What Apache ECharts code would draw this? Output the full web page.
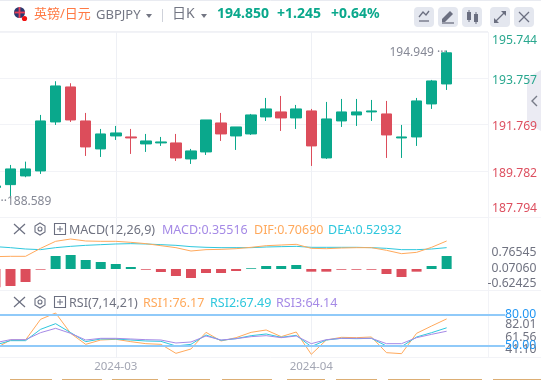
<!DOCTYPE html>
<html><head><meta charset="utf-8">
<style>html,body{margin:0;padding:0;background:#fff}#c{width:541px;height:380px}</style>
<script src="https://cdn.jsdelivr.net/npm/echarts@6/dist/echarts.min.js"></script>
</head><body><div id="c"></div>
<script>
// ---- data ----
const categories = ['','','','','','','','','2024-03','','','','','','','','','','','','','2024-04','','','','','','','','','','',''];
const ohlc = [ // open, close, low, high
[189.065,189.129,188.95,189.30],[189.185,189.860,188.589,190.031],[189.559,189.860,189.503,190.173],
[189.774,191.922,189.645,192.180],[191.879,193.426,191.750,193.628],[193.383,191.965,191.879,193.542],
[191.922,190.805,190.418,192.266],[190.719,191.363,190.375,191.578],[191.277,191.406,191.105,191.707],
[191.234,191.191,190.504,191.578],[190.934,191.062,190.590,191.363],[190.977,191.020,190.848,191.234],
[190.977,190.332,190.203,191.363],[190.289,190.633,190.074,190.719],[190.590,191.965,190.461,191.965],
[191.836,191.363,191.062,192.266],[191.277,191.664,190.676,191.664],[191.363,192.180,191.320,192.223],
[192.094,192.438,191.922,192.910],[192.309,192.051,191.492,192.996],[192.051,192.438,191.578,192.610],
[192.352,190.848,189.988,192.438],[190.332,192.008,190.289,192.739],[191.922,192.309,191.664,192.867],
[192.180,192.309,191.707,192.867],[192.309,192.352,191.922,192.824],[192.223,191.320,190.332,192.782],
[191.191,191.234,190.332,191.750],[191.234,192.782,190.848,192.910],[192.653,193.641,192.438,193.684],
[193.512,194.850,193.254,194.949]];
const macdHist = [-0.5,-0.464,-0.355,-0.018,0.355,0.383,0.246,0.191,0.137,0.055,-0.02,-0.082,-0.191,-0.246,-0.109,-0.109,-0.055,0.02,0.082,0.082,0.109,-0.073,-0.073,-0.02,-0.02,-0.02,-0.137,-0.219,-0.073,0.082,0.35516];
const dif = [0.29,0.298,0.298,0.511,0.698,0.76,0.707,0.698,0.698,0.671,0.636,0.582,0.529,0.44,0.476,0.484,0.502,0.538,0.582,0.6,0.618,0.511,0.502,0.52,0.529,0.529,0.458,0.369,0.404,0.538,0.7069];
const dea = [0.556,0.529,0.493,0.476,0.529,0.564,0.591,0.609,0.627,0.636,0.627,0.609,0.591,0.556,0.538,0.529,0.529,0.529,0.547,0.556,0.564,0.538,0.538,0.538,0.538,0.529,0.511,0.476,0.476,0.493,0.52932];
const rsi1 = [47.4,55.56,55.56,75.77,81.96,62.08,51.33,55.56,56.22,53.94,51.98,51.33,42.53,46.77,63.06,54.59,57.85,63.06,65.34,58.82,63.38,41.55,55.56,58.17,57.85,58.5,43.18,42.2,62.08,69.25,76.17];
const rsi2 = [50.7,54.91,54.91,65.99,71.53,62.73,53.93,56.54,56.54,55.56,54.59,54.26,49.7,51.33,60.45,55.24,56.87,59.8,61.43,58.17,60.13,49.05,55.56,57.19,56.87,57.19,49.7,49.05,58.5,62.73,67.49];
const rsi3 = [52.96,55.89,55.89,62.73,66.97,62.08,55.56,57.19,57.19,56.54,55.89,55.56,52.63,53.61,59.47,55.56,56.87,58.82,59.8,57.85,59.47,51.98,55.89,57.19,57.19,57.19,51.98,51.98,57.85,61.1,64.14];
const priceTicks = [187.794,189.782,191.769,193.757,195.744];
const macdTicks = ['-0.62425','0.07060','0.76545'];
const rsiTicks = ['41.10','61.56','82.01'];
const rsiLevels = [80,50];
const highLabel = 194.949, lowLabel = 188.589;

const FONT = '"Noto Sans","Noto Sans CJK SC",sans-serif';
const UP = '#0aa88c', DOWN = '#dc4d5b', GRID = '#f2f3f7';
const OR = '#ffa95c', CY = '#2ec7dd', PU = '#a58ae6', GREY = '#6f7280';

const txt = (x,y,text,fill,size,weight) => ({type:'text',z:5,style:{x,y,text,fill,verticalAlign:'middle',font:`${weight||'normal'} ${size||13}px ${FONT}`}});
const ln = (x1,y1,x2,y2,stroke,w) => ({type:'line',z:-2,shape:{x1,y1,x2,y2},style:{stroke,lineWidth:w||1}});
const poly = (points,stroke,w) => ({type:'polyline',z:5,shape:{points},style:{stroke,fill:null,lineWidth:w||1.3}});
const solid = (points,fill,z) => ({type:'polygon',z:z||5,shape:{points},style:{fill}});
const btn = x => ({type:'rect',z:2,shape:{x,y:7,width:20,height:20,r:4},style:{fill:'#e4e7ef'}});
const panelIcons = y => [
  poly([[14,y-5],[25,y+5]],'#6b6f80',1.2), poly([[25,y-5],[14,y+5]],'#6b6f80',1.2),
  {type:'polygon',z:5,shape:{points:[[40,y-6],[45,y-3],[45,y+3],[40,y+6],[35,y+3],[35,y-3]]},style:{fill:null,stroke:'#6b6f80',lineWidth:1.1}},
  {type:'circle',z:5,shape:{cx:40,cy:y,r:2},style:{fill:null,stroke:'#6b6f80',lineWidth:1.1}},
  {type:'rect',z:5,shape:{x:54.5,y:y-5.5,width:11,height:11},style:{fill:null,stroke:'#6b6f80',lineWidth:1.1}},
  poly([[57,y],[63,y]],'#6b6f80',1), poly([[60,y-3],[60,y+3]],'#6b6f80',1)
];
const strips = [[10,52],[62,102],[112,158],[168,210],[222,272],[287,325],[336,377],[388,430],[440,482],[493,541]];

const elements = [
  ln(0,0.5,541,0.5,'#e9ebf1'), ln(0,31.5,488,31.5,'#f0f1f5',1), ln(0,217.5,488,217.5,GRID), ln(488,217.5,541,217.5,'#f5f6f9'),
  ln(0,290.5,541,290.5,GRID), ln(0,357.5,541,357.5,GRID), ln(488.5,32,488.5,358,'#f2f3f7'),
  solid([[527,78],[541,70],[541,131],[527,123]],'#ebebf3',-1), poly([[537,96],[532,101],[537,106]],'#777b88',1.4),
  {type:'circle',z:5,shape:{cx:19.5,cy:12.5,r:5.5},style:{fill:'#2c3a70'}},
  poly([[14.5,12.5],[25,12.5]],'#e8415a',1.8), poly([[19.5,7],[19.5,18]],'#e8415a',1.8),
  {type:'circle',z:6,shape:{cx:24.5,cy:18.5,r:2.6},style:{fill:'#f01010'}},
  txt(34,14,'英镑/日元','#ff7a45',13), txt(96,15,'GBPJPY','#737683',13),
  solid([[146,14],[152,14],[149,18]],'#737683'), ln(162.5,9,162.5,22,'#cfd2da'),
  txt(172,14,'日K','#737683',14), solid([[201,14],[207,14],[204,18]],'#737683'),
  txt(217,14,'194.850',UP,14,'bold'), txt(277,14,'+1.245',UP,14,'bold'), txt(331,14,'+0.64%',UP,14,'bold'),
  btn(414),btn(438),btn(462),btn(490),btn(514),
  poly([[419,17],[423,12],[426,15],[429,11]],'#6b6f80'), poly([[419,21],[429,21]],'#6b6f80'),
  solid([[442,19],[450,11],[453,14],[445,22],[442,22]],'#6b6f80'), poly([[442,23],[454,23]],'#6b6f80'),
  {type:'rect',z:5,shape:{x:467,y:12,width:4,height:8},style:{fill:'#6b6f80'}},{type:'rect',z:5,shape:{x:474,y:14,width:4,height:8},style:{fill:'#6b6f80'}},
  poly([[469,10],[469,22]],'#6b6f80',1),poly([[476,12],[476,24]],'#6b6f80',1),
  poly([[495,22],[505,12]],'#6b6f80',1.2),solid([[501,11],[506,11],[506,16]],'#6b6f80'),solid([[494,18],[494,23],[499,23]],'#6b6f80'),
  poly([[519,12],[529,22]],'#6b6f80',1.2),poly([[529,12],[519,22]],'#6b6f80',1.2),
  ...panelIcons(229), ...panelIcons(302),
  txt(69,230,'MACD(12,26,9)',GREY,12.5), txt(162,230,'MACD:0.35516',PU,12.5), txt(254,230,'DIF:0.70690',OR,12.5), txt(328,230,'DEA:0.52932',CY,12.5),
  txt(69,303,'RSI(7,14,21)',GREY,12.5), txt(143,303,'RSI1:76.17',OR,12.5), txt(210,303,'RSI2:67.49',CY,12.5), txt(276,303,'RSI3:64.14',PU,12.5),
  ...strips.map(s=>({type:'rect',z:1,shape:{x:s[0],y:379,width:s[1]-s[0],height:1},style:{fill:'#dcae74'}}))
];

const L=-12.06, W=496.3;
const priceStep=(priceTicks[4]-priceTicks[0])/4;
const G = o => Object.assign({outerBoundsMode:'none',containLabel:false},o);
const hiddenX = (gridIndex,data) => ({type:'category',gridIndex,data,show:false});
const plotX = (gridIndex,showLabel) => ({type:'category',gridIndex,data:categories,boundaryGap:true,
  axisLine:{show:false},axisTick:{show:false},
  splitLine:{show:true,alignWithLabel:true,interval:(i)=>categories[i]!=='',lineStyle:{color:'#eef0f5',width:1}},
  axisLabel:{show:!!showLabel,interval:0,color:'#a3a6b3',fontSize:11.5,fontFamily:FONT,margin:3,formatter:v=>v,hideOverlap:false}});
const hiddenY = (gridIndex,min,max) => ({type:'value',gridIndex,min,max,show:false,scale:true,splitLine:{show:false}});

const option = {
  animation:false, backgroundColor:'#fff',
  graphic:{elements},
  grid:[
    G({left:L,width:W,top:32,height:185}),
    G({left:L,width:W,top:217.7,height:72.3}),
    G({left:L,width:W,top:291,height:66.7}),
    G({left:0,width:488,top:32,height:185}),
    G({left:0,width:488,top:252.7,height:31}),
    G({left:0,width:488,top:325,height:24.7}),
    G({left:0,width:505,top:291,height:66.7}),
    G({left:0,width:488,top:34.5,height:185})
  ],
  xAxis:[plotX(0),plotX(1),plotX(2,true),hiddenX(3,['']),hiddenX(4,['']),hiddenX(5,['']),hiddenX(6,['']),hiddenX(7,[''])],
  yAxis:[
    hiddenY(0,priceTicks[0],priceTicks[4]),
    hiddenY(1,-0.574,1.402),
    hiddenY(1,-0.6,1.328),
    hiddenY(2,38.26,103.46),
    {type:'value',gridIndex:3,position:'right',min:priceTicks[0],max:priceTicks[4],interval:priceStep,
      axisLine:{show:false},axisTick:{show:false},axisLabel:{show:false},
      splitLine:{show:true,lineStyle:{color:GRID,width:1}}},
    {type:'value',gridIndex:4,position:'right',min:-0.62425,max:0.76545,interval:(0.76545+0.62425)/2,
      axisLine:{show:false},axisTick:{show:false},splitLine:{show:false},
      axisLabel:{margin:48.5,align:'right',fontSize:12.2,fontFamily:FONT,color:GREY,showMinLabel:true,showMaxLabel:true,hideOverlap:false,
        formatter:(v)=>macdTicks[Math.round((v+0.62425)/((0.76545+0.62425)/2))]}},
    {type:'value',gridIndex:5,position:'right',min:41.10,max:82.01,interval:(82.01-41.10)/2,
      axisLine:{show:false},axisTick:{show:false},splitLine:{show:false},
      axisLabel:{margin:48.5,align:'right',fontSize:12.2,lineHeight:12,fontFamily:FONT,color:GREY,showMinLabel:true,showMaxLabel:true,hideOverlap:false,
        formatter:(v)=>rsiTicks[Math.round((v-41.10)/((82.01-41.10)/2))]}},
    hiddenY(6,38.26,103.46),
    {type:'value',gridIndex:7,position:'right',min:priceTicks[0],max:priceTicks[4],interval:priceStep,
      axisLine:{show:false},axisTick:{show:false},splitLine:{show:false},
      axisLabel:{margin:4,fontSize:12.2,fontFamily:FONT,showMinLabel:true,showMaxLabel:true,
        color:(v)=>v>193?'#2aa88f':'#dd5060',
        verticalAlignMinLabel:'bottom',verticalAlignMaxLabel:'top',
        formatter:(v)=>{const i=Math.round((v-priceTicks[0])/priceStep),s=priceTicks[i].toFixed(3);return i===0?'{low|'+s+'}':s;},
        rich:{low:{color:'#dd5060',fontSize:12.2,fontFamily:FONT,padding:[0,0,5,0]}}}}
  ],
  series:[
    {type:'candlestick',xAxisIndex:0,yAxisIndex:0,data:ohlc,barWidth:11,clip:false,
      itemStyle:{color:UP,color0:DOWN,borderColor:UP,borderColor0:DOWN,borderWidth:1},
      markPoint:{symbol:'circle',symbolSize:0,silent:true,
        data:[
          {coord:[30,highLabel],label:{show:true,position:'inside',align:'right',verticalAlign:'middle',offset:[0,2],
            color:'#858895',fontSize:12,fontFamily:FONT,formatter:highLabel.toFixed(3)+' ···'}},
          {coord:[1,lowLabel],label:{show:true,position:'inside',align:'left',verticalAlign:'middle',offset:[-10,3],
            color:'#858895',fontSize:12,fontFamily:FONT,formatter:'··'+lowLabel.toFixed(3)}}
        ]}},
    {type:'bar',xAxisIndex:1,yAxisIndex:1,data:macdHist,barWidth:10,clip:false,
      itemStyle:{color:(p)=>p.value>=0?UP:DOWN}},
    {type:'line',xAxisIndex:1,yAxisIndex:2,data:dea,symbol:'none',lineStyle:{color:CY,width:1}},
    {type:'line',xAxisIndex:1,yAxisIndex:2,data:dif,symbol:'none',lineStyle:{color:OR,width:1}},
    {type:'line',xAxisIndex:6,yAxisIndex:7,data:[],symbol:'none',z:1,
      markLine:{silent:true,symbol:'none',animation:false,
        lineStyle:{color:'#90caf9',width:2,type:'solid'},
        label:{show:true,position:'end',distance:0,color:'#2196f3',fontSize:12.2,fontFamily:FONT,formatter:(p)=>p.value.toFixed(2)},
        data:rsiLevels.map(v=>({yAxis:v}))}},
    {type:'line',xAxisIndex:2,yAxisIndex:3,data:rsi1,symbol:'none',z:3,lineStyle:{color:OR,width:1}},
    {type:'line',xAxisIndex:2,yAxisIndex:3,data:rsi2,symbol:'none',z:3,lineStyle:{color:CY,width:1}},
    {type:'line',xAxisIndex:2,yAxisIndex:3,data:rsi3,symbol:'none',z:3,lineStyle:{color:PU,width:1}}
  ]
};
const chart = echarts.init(document.getElementById('c'),null,{renderer:'canvas'});
chart.setOption(option);
</script></body></html>
